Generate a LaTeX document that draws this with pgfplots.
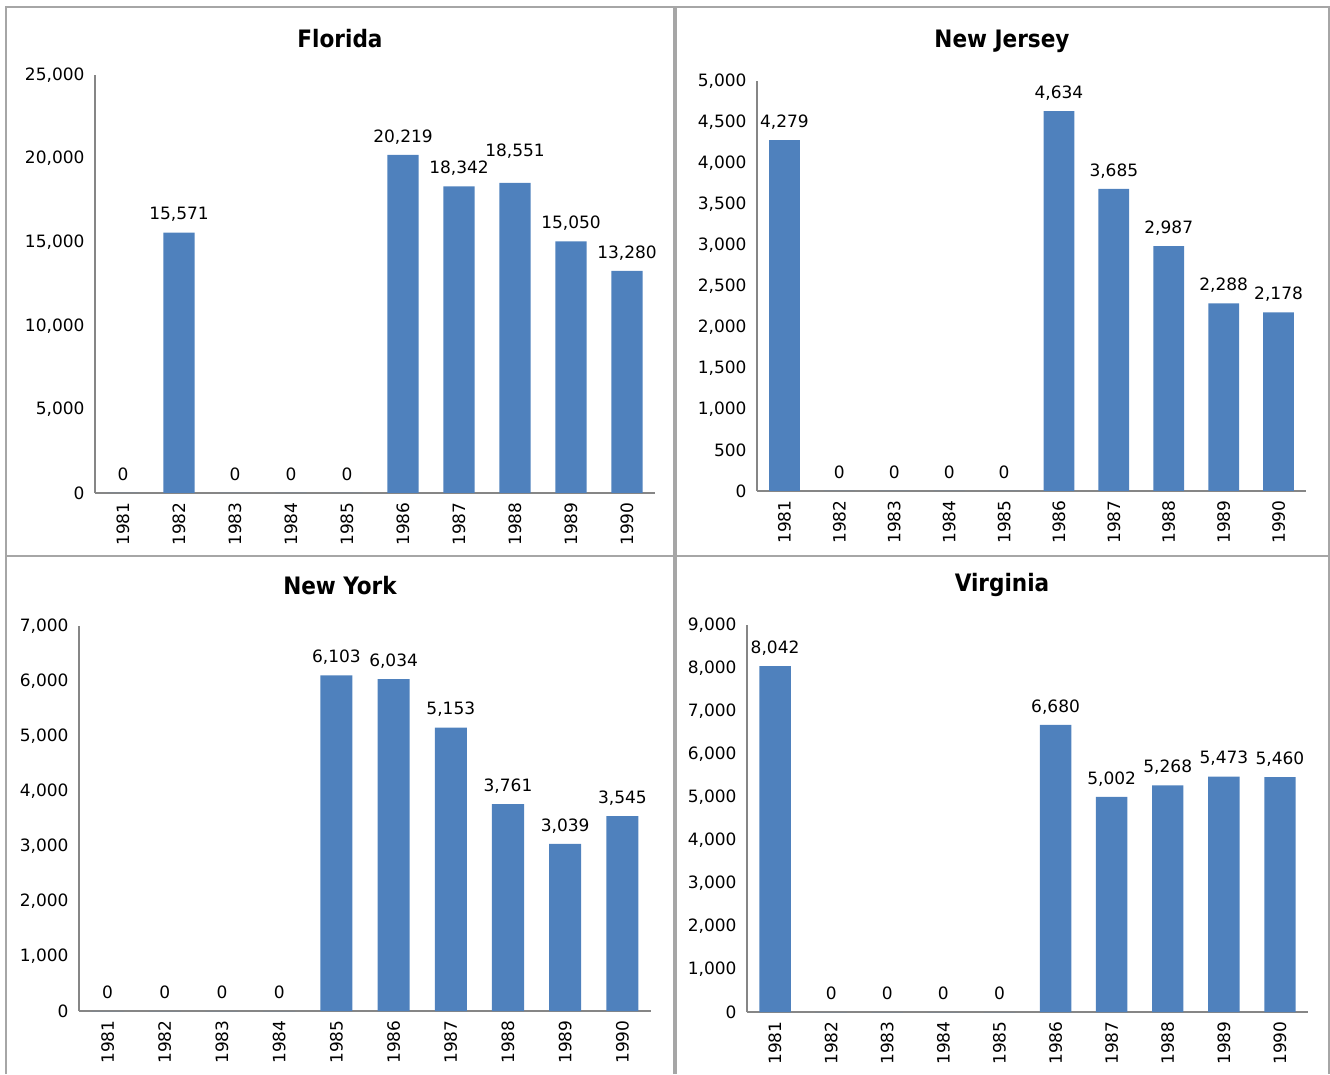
\documentclass[border=0pt]{standalone}
\usepackage{pgfplots}
\pgfplotsset{compat=1.18}
\usepackage{fontspec}
\setmainfont{DejaVu Sans}
\newfontfamily\titlefont{DejaVu Sans Condensed}

\definecolor{barblue}{HTML}{4F81BD}
\definecolor{axisgray}{HTML}{868686}
\definecolor{framegray}{HTML}{A6A6A6}

\newcommand{\lblfont}{\fontsize{17}{20}\selectfont}

\pgfplotsset{
  /pgf/number format/.cd, fixed, precision=0, 1000 sep={,}, assume math mode=true,
  /pgfplots/.cd,
  statebar/.style={
    scale only axis,
    anchor=south west,
    xmin=-0.5, xmax=9.5, ymin=0,
    axis x line*=bottom, axis y line*=left,
    axis line style={axisgray, line width=2pt, -},
    major tick length=0pt,
    xtick={0,...,9},
    xticklabels={1981,1982,1983,1984,1985,1986,1987,1988,1989,1990},
    tick label style={font=\lblfont, text=black},
    x tick label style={yshift=-6pt, rotate=90, anchor=east},
    y tick label style={xshift=-7pt},
    scaled y ticks=false,
    ybar, bar width=0.56, bar shift=0pt,
    clip=false,
    nodes near coords,
    every node near coord/.append style={font=\lblfont, text=black, anchor=base, yshift=12.7pt},
  },
  barstyle/.style={fill=barblue, draw=none},
}

\begin{document}
\begin{tikzpicture}
\path[use as bounding box] (0pt,0pt) rectangle (1330pt,1074pt);

% panel frames
\draw[framegray, line width=2pt] (6pt,1067pt) rectangle (674pt,518pt);
\draw[framegray, line width=2pt] (676pt,1067pt) rectangle (1329pt,518pt);
\draw[framegray, line width=2pt] (6pt,0pt) -- (6pt,518pt) -- (674pt,518pt) -- (674pt,0pt);
\draw[framegray, line width=2pt] (676pt,0pt) -- (676pt,518pt) -- (1329pt,518pt) -- (1329pt,0pt);

% titles
\node[font=\titlefont\bfseries\fontsize{24}{28}\selectfont] at (340pt,1035pt) {Florida};
\node[font=\titlefont\bfseries\fontsize{24}{28}\selectfont] at (1002pt,1033pt) {New Jersey};
\node[font=\titlefont\bfseries\fontsize{24}{28}\selectfont] at (340pt,488pt) {New York};
\node[font=\titlefont\bfseries\fontsize{24}{28}\selectfont] at (1002pt,489pt) {Virginia};

% Florida
\begin{axis}[statebar, at={(95pt,581pt)}, width=560pt, height=418pt,
  ymax=25000, ytick={0,5000,...,25000},
  visualization depends on={\thisrow{dy}\as\dy},
  every node near coord/.append style={yshift=\dy pt}]
\addplot[barstyle] table[x=x, y=y] {
x y dy
0 0 0
1 15571 0
2 0 0
3 0 0
4 0 0
5 20219 0
6 18342 0
7 18551 14
8 15050 0
9 13280 0
};
\end{axis}

% New Jersey
\begin{axis}[statebar, at={(757pt,583pt)}, width=549pt, height=410pt,
  ymax=5000, ytick={0,500,...,5000}]
\addplot[barstyle] coordinates {
(0,4279) (1,0) (2,0) (3,0) (4,0) (5,4634) (6,3685) (7,2987) (8,2288) (9,2178)
};
\end{axis}

% New York
\begin{axis}[statebar, at={(79pt,63pt)}, width=572pt, height=385pt,
  ymax=7000, ytick={0,1000,...,7000}]
\addplot[barstyle] coordinates {
(0,0) (1,0) (2,0) (3,0) (4,6103) (5,6034) (6,5153) (7,3761) (8,3039) (9,3545)
};
\end{axis}

% Virginia
\begin{axis}[statebar, at={(747pt,62pt)}, width=561pt, height=387pt,
  ymax=9000, ytick={0,1000,...,9000}]
\addplot[barstyle] coordinates {
(0,8042) (1,0) (2,0) (3,0) (4,0) (5,6680) (6,5002) (7,5268) (8,5473) (9,5460)
};
\end{axis}
\end{tikzpicture}
\end{document}
